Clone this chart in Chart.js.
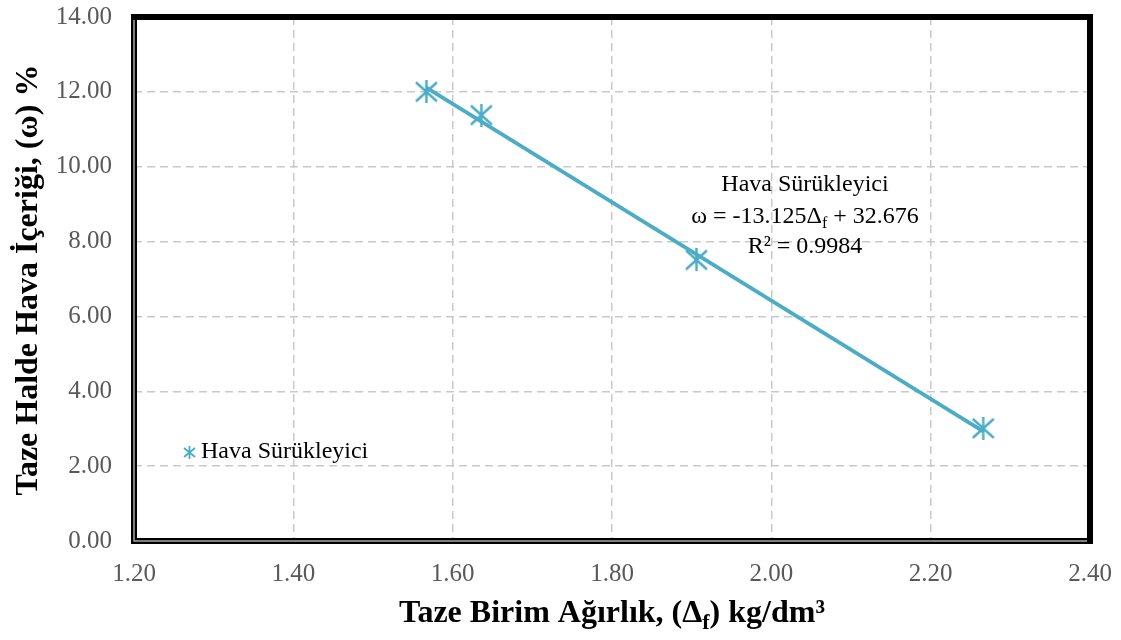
<!DOCTYPE html>
<html>
<head>
<meta charset="utf-8">
<script src="https://cdn.jsdelivr.net/npm/chart.js@4"></script>
<style>
  html, body { margin: 0; padding: 0; background: #fff; }
  #wrap { width: 1121px; height: 640px; }
</style>
</head>
<body>
<div id="wrap"><canvas id="chart" width="1121" height="640"></canvas></div>
<script>
// measured points (fresh unit weight vs air content)
const seriesName = 'Hava Sürükleyici';
const unitWeight = [1.567, 1.636, 1.906, 2.266];
const airContent = [12.00, 11.38, 7.51, 3.01];

// trendline ends
const trendX = [1.567, 2.266];
const trendY = [12.11, 2.93];

const xTicks = [1.20, 1.40, 1.60, 1.80, 2.00, 2.20, 2.40];
const yTicks = [0, 2, 4, 6, 8, 10, 12, 14];

const eqLines = ['Hava Sürükleyici', 'ω = -13.125Δ|f| + 32.676', 'R² = 0.9984'];

const BLUE = '#4BACC6';
const SERIF = '"Liberation Serif", "Times New Roman", serif';

// asterisk marker like the excel "star" (no horizontal bar)
function makeStar(size, lw) {
    const c = document.createElement('canvas');
    c.width = size; c.height = size;
    const g = c.getContext('2d');
    const m = size / 2;
    g.strokeStyle = BLUE;
    g.lineWidth = lw;
    g.beginPath();
    g.moveTo(m, 0); g.lineTo(m, size);
    g.moveTo(1, 2); g.lineTo(size - 1, size - 2);
    g.moveTo(size - 1, 2); g.lineTo(1, size - 2);
    g.stroke();
    return c;
}
const bigStar = makeStar(23, 2.4);
const smallStar = makeStar(13, 1.8);

// draws a string with |sub| parts as subscript
function drawRich(ctx, text, x, y, size, bold, align) {
    const parts = text.split('|');
    const fontN = (bold ? 'bold ' : '') + size + 'px ' + SERIF;
    const fontS = (bold ? 'bold ' : '') + Math.round(size * 0.68) + 'px ' + SERIF;
    let total = 0;
    parts.forEach((p, i) => {
        ctx.font = i % 2 ? fontS : fontN;
        total += ctx.measureText(p).width;
    });
    let cx = align === 'left' ? x : x - total / 2;
    ctx.textAlign = 'left';
    ctx.textBaseline = 'middle';
    parts.forEach((p, i) => {
        ctx.font = i % 2 ? fontS : fontN;
        ctx.fillText(p, cx, i % 2 ? y + size * 0.3 : y);
        cx += ctx.measureText(p).width;
    });
}

const decorPlugin = {
    id: 'decor',
    afterDraw(chart) {
        const ctx = chart.ctx;
        const a = chart.chartArea;
        ctx.save();

        // frame
        ctx.strokeStyle = '#000';
        ctx.lineWidth = 6;
        ctx.strokeRect(a.left, a.top, a.right - a.left, a.bottom - a.top);
        ctx.strokeStyle = '#a6a6a6';
        ctx.lineWidth = 1.5;
        ctx.beginPath();
        ctx.moveTo(a.left, a.top + 3);
        ctx.lineTo(a.left, a.bottom);
        ctx.lineTo(a.right - 3, a.bottom);
        ctx.stroke();

        ctx.fillStyle = '#000';
        // axis titles
        drawRich(ctx, 'Taze Birim Ağırlık, (Δ|f|) kg/dm³', (a.left + a.right) / 2, 614, 32, true);
        ctx.save();
        ctx.translate(29, 280);
        ctx.rotate(-Math.PI / 2);
        drawRich(ctx, 'Taze Halde Hava İçeriği, (ω) %', 0, 0, 32, true);
        ctx.restore();

        // trendline label
        const ys = [185, 217, 247];
        eqLines.forEach((t, i) => drawRich(ctx, t, 805, ys[i], 24, false));

        // legend inside plot
        ctx.drawImage(smallStar, 183, 446);
        ctx.fillStyle = '#000';
        drawRich(ctx, seriesName, 201, 452, 24, false, 'left');

        ctx.restore();
    }
};

const gridStyle = {
    color: '#c9c9c9',
    lineWidth: 1.5,
    drawTicks: false
};

new Chart(document.getElementById('chart'), {
    type: 'scatter',
    data: {
        datasets: [
            {
                label: 'trend',
                type: 'line',
                data: trendX.map((x, i) => ({ x: x, y: trendY[i] })),
                borderColor: BLUE,
                borderWidth: 3.8,
                pointRadius: 0,
                fill: false
            },
            {
                label: seriesName,
                data: unitWeight.map((x, i) => ({ x: x, y: airContent[i] })),
                pointStyle: bigStar,
                pointRadius: 11,
                borderColor: BLUE,
                backgroundColor: BLUE
            }
        ]
    },
    options: {
        responsive: false,
        animation: false,
        layout: { padding: { left: 0, right: 31, top: 17, bottom: 0 } },
        plugins: {
            legend: { display: false },
            tooltip: { enabled: false }
        },
        scales: {
            x: {
                type: 'linear',
                min: 1.2,
                max: 2.4,
                afterBuildTicks: (s) => { s.ticks = xTicks.map(v => ({ value: v })); },
                afterFit: (s) => {
                    s.height = 99;
                    s.paddingLeft = 0;
                    s.paddingRight = 0;
                },
                grid: gridStyle,
                border: { display: false, dash: [8, 5] },
                ticks: {
                    padding: 18,
                    maxRotation: 0,
                    color: '#595959',
                    font: { family: SERIF, size: 25 },
                    callback: (v) => Number(v).toFixed(2)
                }
            },
            y: {
                type: 'linear',
                min: 0,
                max: 14,
                afterBuildTicks: (s) => { s.ticks = yTicks.map(v => ({ value: v })); },
                afterFit: (s) => {
                    s.width = 134;
                    s.paddingTop = 0;
                    s.paddingBottom = 0;
                },
                grid: gridStyle,
                border: { display: false, dash: [8, 5] },
                ticks: {
                    padding: 22,
                    color: '#595959',
                    font: { family: SERIF, size: 25 },
                    callback: (v) => Number(v).toFixed(2)
                }
            }
        }
    },
    plugins: [decorPlugin]
});
</script>
</body>
</html>
